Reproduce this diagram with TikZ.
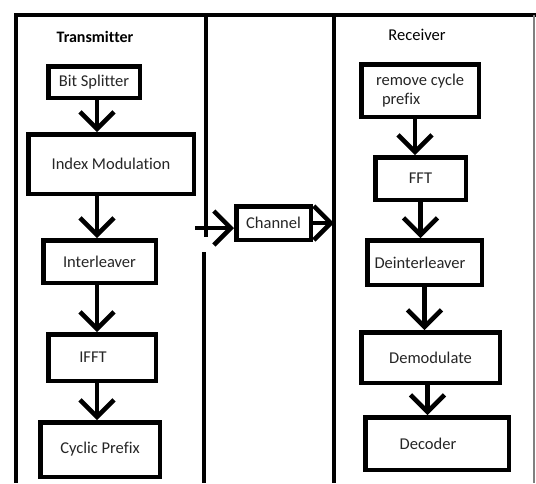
\documentclass[tikz,border=0pt]{standalone}
\usepackage{fontspec}
\setmainfont{Carlito}[Ligatures=NoCommon]
\usepackage{xcolor}
\usepackage{tikz}
\usetikzlibrary{positioning, calc, arrows.meta}

\begin{document}
\begin{tikzpicture}[x=1pt, y=-1pt]

\tikzstyle{blockr}=[draw=black, line width=4.5pt, inner sep=0pt, fill=white, text=black!85, font=\fontsize{16.5}{19.5}\selectfont]
\tikzstyle{flow}=[line width=4.5pt, -{Straight Barb[length=17pt, width=34pt]}]
\tikzstyle{frame}=[line width=4.5pt]

\useasboundingbox (0,0) rectangle (536,483);

%% frame of the three columns
\draw [frame] (14,15) -- (536,15);
\draw [frame] (16,15) -- (16,483);
\draw [line width=3.5pt] (206,15) -- (206,237);
\draw [line width=3.5pt] (204,252) -- (204,483);
\draw [line width=3.5pt] (334,15) -- (334,483);
\draw [line width=1.5pt, gray] (534,15) -- (534,483);

\node (txtitle) at (95,37) [font=\fontsize{16}{18}\selectfont\bfseries] {Transmitter};
\node (rxtitle) at (417,35) [font=\fontsize{16.5}{18}\selectfont] {Receiver};

%% transmitter
\node (bitsplit) at (94,82) [blockr, minimum width=91.5pt, minimum height=31.5pt] {Bit Splitter};
\node (indexmod) at (111,164) [blockr, minimum width=165.5pt, minimum height=59.5pt] {Index Modulation};
\node (interl) at (99.5,261.5) [blockr, minimum width=112.5pt, minimum height=42.5pt] {Interleaver};
\node (ifft) at (102,357.5) [blockr, minimum width=107.5pt, minimum height=46.5pt] {IFFT\hspace*{18pt}};
\node (cyclic) at (100,449.5) [blockr, minimum width=119.5pt, minimum height=54.5pt] {Cyclic Prefix};

%% channel
\node (channel) at (273.5,223) [blockr, minimum width=74.5pt, minimum height=33.5pt] {Channel};
\coordinate (txout) at (195,228);
\coordinate (rxin) at (334,223);

%% receiver
\node (removecp) at (420,90.5) [blockr, minimum width=117.5pt, minimum height=52.5pt, align=left] {remove cycle\\\hspace*{6pt}prefix};
\node (fft) at (420.5,178.5) [blockr, minimum width=90.5pt, minimum height=42.5pt] {FFT};
\node (deinterl) at (424.5,262.5) [blockr, minimum width=114.5pt, minimum height=44.5pt] {Deinterleaver\hspace*{9pt}};
\node (demod) at (430.5,357.5) [blockr, minimum width=138.5pt, minimum height=50.5pt] {Demodulate};
\node (decoder) at (437,443.5) [blockr, minimum width=143.5pt, minimum height=52.5pt] {Decoder\hspace*{18pt}};

\draw [flow] ($(bitsplit.south)+(3,0)$) -- ($(bitsplit.south |- indexmod.north)+(3,0)$);
\draw [flow] (indexmod.south -| bitsplit.south) ++(3,0) -- ($(bitsplit.south |- interl.north)+(3,0)$);
\draw [flow] (interl.south -| bitsplit.south) ++(3,0) -- ($(bitsplit.south |- ifft.north)+(3,0)$);
\draw [flow] (ifft.south -| bitsplit.south) ++(3,0) -- ($(bitsplit.south |- cyclic.north)+(3,0)$);

\draw [flow] (txout) -- (txout -| channel.west);
\draw [flow] (channel.east |- rxin) -- (rxin);

\draw [flow] ($(removecp.south)+(-5,0)$) -- ($(removecp.south |- fft.north)+(-5,0)$);
\draw [flow] (fft.south) -- (fft.south |- deinterl.north);
\draw [flow] (deinterl.south) -- (deinterl.south |- demod.north);
\draw [flow] ($(demod.south)+(-3,0)$) -- ($(demod.south |- decoder.north)+(-3,0)$);

\end{tikzpicture}
\end{document}
